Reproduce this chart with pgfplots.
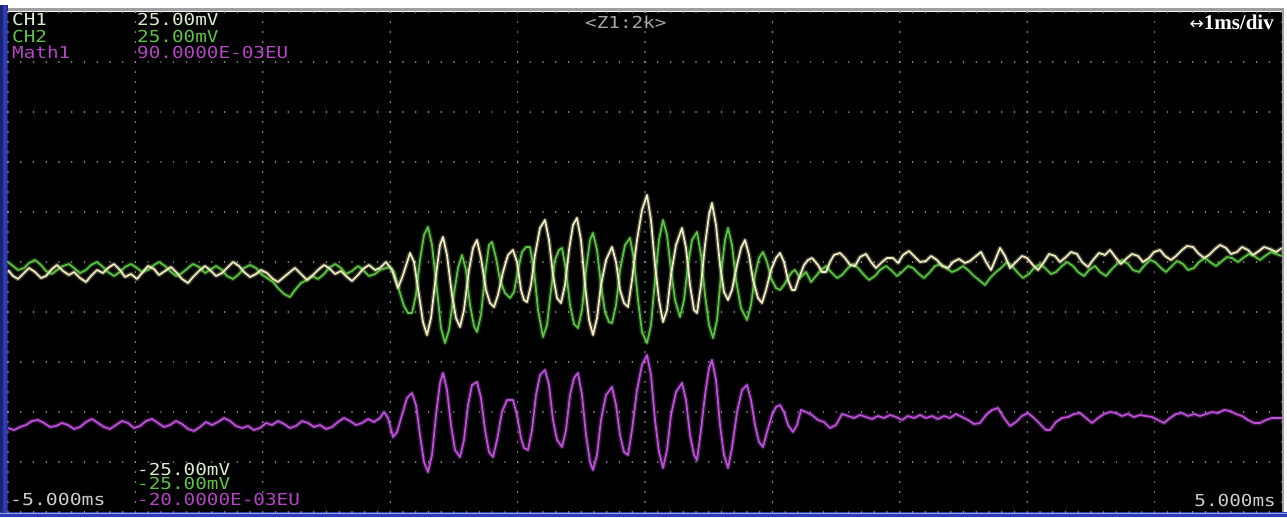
\documentclass[border=0pt]{standalone}
\usepackage{fontspec}
\usepackage{pgfplots}
\usepackage{pgfplotstable}
\pgfplotsset{compat=1.18}
\newfontfamily\mono{DejaVu Sans Mono}
\newfontfamily\djv{DejaVu Sans}
\newfontfamily\serifb{Liberation Serif}
\definecolor{chone}{HTML}{F2EDC0}
\definecolor{chonetxt}{HTML}{D8ECCC}
\definecolor{chtwo}{HTML}{5CC444}
\definecolor{math}{HTML}{C050DC}
\definecolor{mathtxt}{HTML}{B444C4}
\definecolor{gridc}{HTML}{A8A8A8}
\definecolor{frameblue}{HTML}{2C3CB8}
% x, y in screen pixels (y measured from the top)
\pgfplotstableread{
x y
8 262
13 266
18 270
24 268
29 263
35 260
41 265
46 271
52 274
57 270
63 266
69 264
74 268
80 273
86 270
91 265
97 262
103 267
108 272
114 276
120 272
125 267
131 264
137 268
142 272
148 270
154 265
159 262
165 266
171 272
176 276
182 273
188 268
193 264
199 267
205 273
210 270
216 266
222 270
227 276
233 279
239 274
244 268
250 265
256 268
261 274
267 278
273 282
278 288
284 294
290 297
295 290
301 283
307 280
312 276
318 279
324 274
329 268
335 264
341 268
346 274
352 271
358 266
363 270
369 276
375 274
380 270
386 268
390 267
394 272
399 290
404 306
408 313
412 313
416 295
420 260
424 235
428 227
432 245
437 290
441 328
445 343
449 330
453 300
458 268
462 255
466 270
470 305
474 326
477 332
481 315
485 275
489 245
492 242
496 258
500 280
505 293
510 298
514 292
518 270
522 252
526 247
530 247
534 270
538 310
543 337
547 325
551 290
555 260
559 250
562 248
566 270
570 305
574 324
578 328
582 310
586 270
590 240
593 233
597 250
601 285
605 312
609 322
612 323
616 305
620 270
625 245
630 238
634 260
638 300
642 332
647 343
651 325
655 280
659 240
663 220
667 235
671 270
675 300
680 317
684 300
688 265
692 240
697 232
701 255
705 295
709 325
713 338
717 320
721 275
725 240
728 228
732 245
736 280
741 308
747 320
751 305
755 275
759 258
763 252
767 262
771 278
776 288
780 290
784 285
788 278
792 272
795 270
800 278
806 272
811 282
816 276
821 270
826 266
831 272
837 278
842 275
848 268
853 264
858 268
864 275
869 280
875 276
880 270
886 266
891 270
897 276
902 272
908 266
913 268
919 274
924 278
930 272
935 266
941 264
946 268
952 272
957 270
963 266
968 270
974 276
979 280
985 285
990 278
996 272
1001 268
1007 262
1012 266
1018 273
1023 278
1029 274
1034 268
1040 264
1045 268
1051 274
1056 272
1062 266
1067 262
1073 266
1078 272
1084 276
1089 270
1095 266
1100 272
1106 276
1111 270
1117 264
1122 260
1128 264
1133 270
1139 272
1144 266
1150 260
1155 262
1161 268
1166 272
1172 266
1177 261
1183 264
1188 270
1194 268
1199 262
1205 258
1210 262
1216 266
1221 262
1227 257
1232 258
1238 262
1243 258
1249 254
1254 256
1260 260
1265 256
1271 252
1276 254
1282 256
}\chtwodata
\pgfplotstableread{
x y
8 270
13 276
18 279
24 273
29 268
35 272
41 278
46 276
52 269
57 265
63 271
69 275
74 272
80 278
86 282
91 276
97 270
103 273
108 268
114 264
120 270
125 277
131 274
137 279
142 273
148 266
154 269
159 275
165 271
171 267
176 272
182 279
188 283
193 277
199 271
205 266
210 270
216 276
222 273
227 268
233 262
239 266
244 272
250 277
256 274
261 270
267 273
273 279
278 282
284 277
290 272
295 268
301 274
307 280
312 276
318 270
324 265
329 268
335 274
341 271
346 276
352 281
358 275
363 269
369 265
375 270
380 268
386 262
392 270
398 288
403 275
410 253
414 262
419 295
423 322
427 335
431 318
436 275
440 245
443 237
447 255
452 295
456 318
460 327
464 310
469 270
473 248
477 240
481 258
486 290
490 303
494 307
498 295
503 272
508 255
513 250
517 262
521 290
524 300
527 302
531 285
535 255
540 228
545 220
549 240
553 275
557 298
561 303
565 285
569 250
573 225
577 218
581 240
585 285
589 320
593 335
597 318
601 285
606 260
612 247
616 262
620 290
624 303
628 307
632 280
637 240
642 210
647 195
651 220
655 265
659 300
663 322
667 310
671 275
676 245
682 228
686 248
690 285
694 310
697 313
701 285
705 245
709 215
712 203
716 225
720 265
724 292
728 300
732 290
737 265
741 248
745 240
749 255
753 280
758 298
762 303
766 290
771 270
776 258
780 253
784 262
788 280
792 290
795 290
799 278
804 265
808 260
812 258
818 265
822 272
826 272
830 262
834 255
840 253
845 258
850 265
855 266
860 257
866 254
871 262
876 268
882 262
887 258
893 258
898 263
903 255
909 251
914 256
920 262
926 261
931 256
937 260
942 266
948 268
953 262
959 259
965 263
970 261
976 256
981 252
986 262
991 270
996 258
1000 248
1005 256
1010 268
1016 262
1022 256
1027 258
1033 265
1038 270
1044 262
1049 254
1055 256
1060 262
1066 257
1071 252
1077 254
1082 262
1088 267
1093 260
1099 253
1105 255
1110 250
1116 258
1121 264
1127 258
1132 254
1138 256
1143 262
1149 258
1154 252
1160 250
1165 256
1171 260
1176 256
1182 250
1187 246
1193 247
1198 253
1204 258
1209 255
1215 249
1220 245
1226 248
1231 254
1237 252
1242 247
1248 250
1253 255
1259 251
1264 247
1270 249
1276 252
1282 248
}\chonedata
\pgfplotstableread{
x y
8 428
14 430
20 427
26 425
32 421
38 420
44 423
50 427
56 426
62 423
68 425
74 429
80 427
86 422
92 419
98 423
104 427
110 429
116 425
122 421
128 423
134 428
140 426
146 421
152 419
158 423
164 427
170 425
176 421
182 424
188 429
194 431
200 427
206 422
212 425
218 422
224 418
230 421
236 426
242 428
248 426
254 430
260 428
266 423
272 425
278 421
284 424
290 428
296 426
302 421
308 423
314 427
320 425
326 429
332 427
338 422
344 418
350 421
356 425
362 423
368 419
374 422
380 418
384 412
388 418
393 437
397 432
402 415
407 398
412 393
416 405
420 435
424 462
428 472
432 455
436 415
440 383
443 373
447 390
451 425
455 450
460 457
464 440
468 405
472 385
477 382
481 398
485 430
489 452
493 457
497 440
502 412
507 400
513 400
517 415
521 438
524 448
528 450
532 430
536 395
540 375
545 370
549 385
553 420
557 440
562 447
566 430
570 395
574 378
578 373
582 395
586 435
590 462
593 470
597 455
601 420
606 395
612 387
616 405
620 435
624 452
628 455
632 430
637 390
642 365
647 355
651 375
655 420
659 452
663 468
667 450
671 415
676 392
682 383
686 400
690 435
694 455
697 460
701 430
705 395
709 368
712 360
716 380
720 425
724 455
728 468
732 448
737 412
742 390
747 385
751 400
755 425
759 442
763 447
767 432
772 415
776 407
780 405
784 412
788 425
793 432
797 425
801 410
806 412
812 415
818 420
824 422
830 428
836 425
842 414
848 416
854 418
860 415
866 417
872 419
878 416
884 418
890 415
896 417
902 420
908 416
914 418
920 415
926 418
932 416
938 419
944 416
950 418
956 414
962 417
968 420
974 424
980 423
986 415
992 410
998 408
1004 418
1010 426
1016 422
1022 416
1028 413
1034 418
1040 424
1046 430
1050 430
1056 422
1062 418
1068 417
1074 414
1080 413
1086 418
1092 423
1098 418
1104 414
1110 412
1116 413
1122 416
1128 414
1134 417
1140 415
1146 416
1152 417
1158 420
1164 423
1170 418
1176 414
1182 413
1188 416
1194 414
1200 416
1206 414
1212 412
1218 413
1224 410
1230 411
1236 414
1242 416
1248 420
1254 423
1260 423
1266 420
1272 418
1282 418
}\mathdata
\begin{document}
\begin{tikzpicture}[x=1pt,y=1pt]
\useasboundingbox (0,0) rectangle (1287,517);
\fill[white] (0,0) rectangle (1287,517);
\fill[black] (8,5) rectangle (1282,505);
\fill[frameblue!60!black] (0,0) rectangle (8,512);
\fill[frameblue] (3,0) rectangle (7,512);
\fill[frameblue] (0,0) rectangle (1287,5);
\fill[frameblue!50!white] (0,3) rectangle (1287,4);
\begin{axis}[
  at={(8pt,5pt)}, anchor=south west,
  width=1274pt, height=500pt, scale only axis,
  xmin=8, xmax=1282, ymin=12, ymax=512, y dir=reverse,
  axis line style={draw=none},
  xtick={8,135.4,262.8,390.2,517.6,645,772.4,899.8,1027.2,1154.6,1282},
  ytick={12,62,112,162,212,262,312,362,412,462,512},
  xticklabels={}, yticklabels={}, major tick length=0pt,
  xmajorgrids, ymajorgrids,
  major x grid style={gridc, line width=1.7pt, line cap=round, dash pattern=on 0pt off 10pt},
  major y grid style={gridc, line width=1.7pt, line cap=round, dash pattern=on 0pt off 12.74pt},
  every axis plot/.append style={line join=round, mark=none},
  glow/.style={line width=4.5pt, opacity=0.28},
  trace/.style={line width=1.7pt},
]
\addplot[chtwo, glow] table {\chtwodata};
\addplot[chone, glow] table {\chonedata};
\addplot[math, glow] table {\mathdata};
\addplot[chtwo, trace] table {\chtwodata};
\addplot[chone, trace] table {\chonedata};
\addplot[math, trace] table {\mathdata};
\end{axis}
% frame lines
\draw[gray!75, line width=3pt] (8,507) -- (1284,507);
\draw[gray!75, line width=2pt] (1283,5) -- (1283,508);
% texts
\tikzset{lab/.style={inner sep=0pt, anchor=west, font=\mono\fontsize{16.5}{16.5}\selectfont}}
\node[lab, text=chonetxt] at (12,498) {\scalebox{1.17}[1]{CH1}};
\node[lab, text=chonetxt] at (137,498) {\scalebox{1.17}[1]{25.00mV}};
\node[lab, text=chtwo] at (12,481) {\scalebox{1.17}[1]{CH2}};
\node[lab, text=chtwo] at (137,481) {\scalebox{1.17}[1]{25.00mV}};
\node[lab, text=mathtxt] at (12,465) {\scalebox{1.17}[1]{Math1}};
\node[lab, text=mathtxt] at (137,465) {\scalebox{1.17}[1]{90.0000E-03EU}};
\node[lab, text=gray!70!white] at (585,495) {\scalebox{1.17}[1]{<Z1:2k>}};
\node[inner sep=0pt, anchor=east, text=white] at (1274,495) {{\djv\fontsize{17}{17}\selectfont ↔}{\serifb\bfseries\fontsize{21}{21}\selectfont 1ms/div}};
\node[lab, text=chonetxt] at (137,47.5) {\scalebox{1.17}[1]{-25.00mV}};
\node[lab, text=chtwo] at (137,33.5) {\scalebox{1.17}[1]{-25.00mV}};
\node[lab, text=mathtxt] at (137,18) {\scalebox{1.17}[1]{-20.0000E-03EU}};
\node[lab, text=gray!40!white] at (10,18) {\scalebox{1.2}[1]{-5.000ms}};
\node[lab, anchor=east, text=gray!40!white] at (1276,17) {\scalebox{1.17}[1]{5.000ms}};
\end{tikzpicture}
\end{document}
